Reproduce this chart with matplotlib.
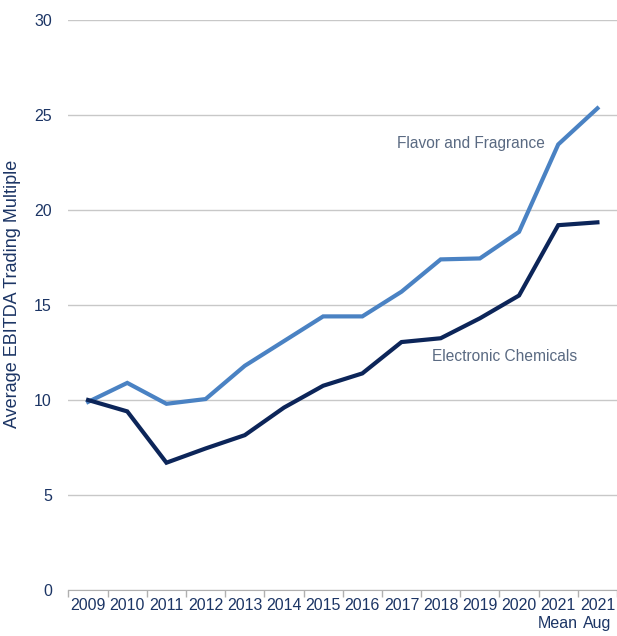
import matplotlib
matplotlib.use("Agg")
import matplotlib.pyplot as plt
import numpy as np

plt.rcParams['font.family'] = ['Liberation Sans Narrow', 'Liberation Sans', 'DejaVu Sans']

years = ['2009', '2010', '2011', '2012', '2013', '2014', '2015', '2016',
         '2017', '2018', '2019', '2020', '2021\nMean', '2021\nAug']
flavor = [9.9, 10.9, 9.8, 10.05, 11.8, 13.1, 14.4, 14.4, 15.7, 17.4, 17.45,
          18.85, 23.45, 25.35]
electronic = [10.0, 9.4, 6.7, 7.45, 8.15, 9.6, 10.75, 11.4, 13.05, 13.25,
              14.3, 15.5, 19.2, 19.35]

navy = '#0c2559'
light = '#4a82c3'
text_col = '#1c3565'
note_col = '#5a6a82'

fig = plt.figure(figsize=(6.17, 6.36), dpi=100)
ax = fig.add_axes([0.111, 0.0723, 0.889, 0.8963])

x = np.arange(len(years))
ax.plot(x, flavor, color=light, lw=3, solid_joinstyle='miter', zorder=3)
ax.plot(x, electronic, color=navy, lw=3, solid_joinstyle='miter', zorder=4)

ax.set_xlim(-0.5, len(years) - 0.5)
ax.set_ylim(0, 30)
ax.set_yticks(range(0, 31, 5))
ax.yaxis.grid(True, color='#c8c8c8', lw=1)
ax.set_axisbelow(True)
ax.tick_params(axis='y', length=0, pad=12, labelsize=11.5, labelcolor=text_col)

ax.set_xticks(x)
ax.set_xticklabels(years)
ax.set_xticks(np.arange(-0.5, len(years), 1), minor=True)
ax.tick_params(axis='x', which='major', length=0, pad=6, labelsize=11.5,
               labelcolor=text_col)
ax.tick_params(axis='x', which='minor', length=5, color='#b0b0b0', width=1)

for s in ['top', 'right', 'left']:
    ax.spines[s].set_visible(False)
ax.spines['bottom'].set_color('#b0b0b0')

ax.set_ylabel('Average EBITDA Trading Multiple', fontsize=13, color=text_col)
ax.yaxis.set_label_coords(-0.087, 0.52)

ax.text(11.66, 23.5, 'Flavor and Fragrance', fontsize=11.2, color=note_col,
        ha='right', va='center')
ax.text(8.77, 12.3, 'Electronic Chemicals', fontsize=11.2, color=note_col,
        ha='left', va='center')

fig.savefig('out.png', dpi=100)
